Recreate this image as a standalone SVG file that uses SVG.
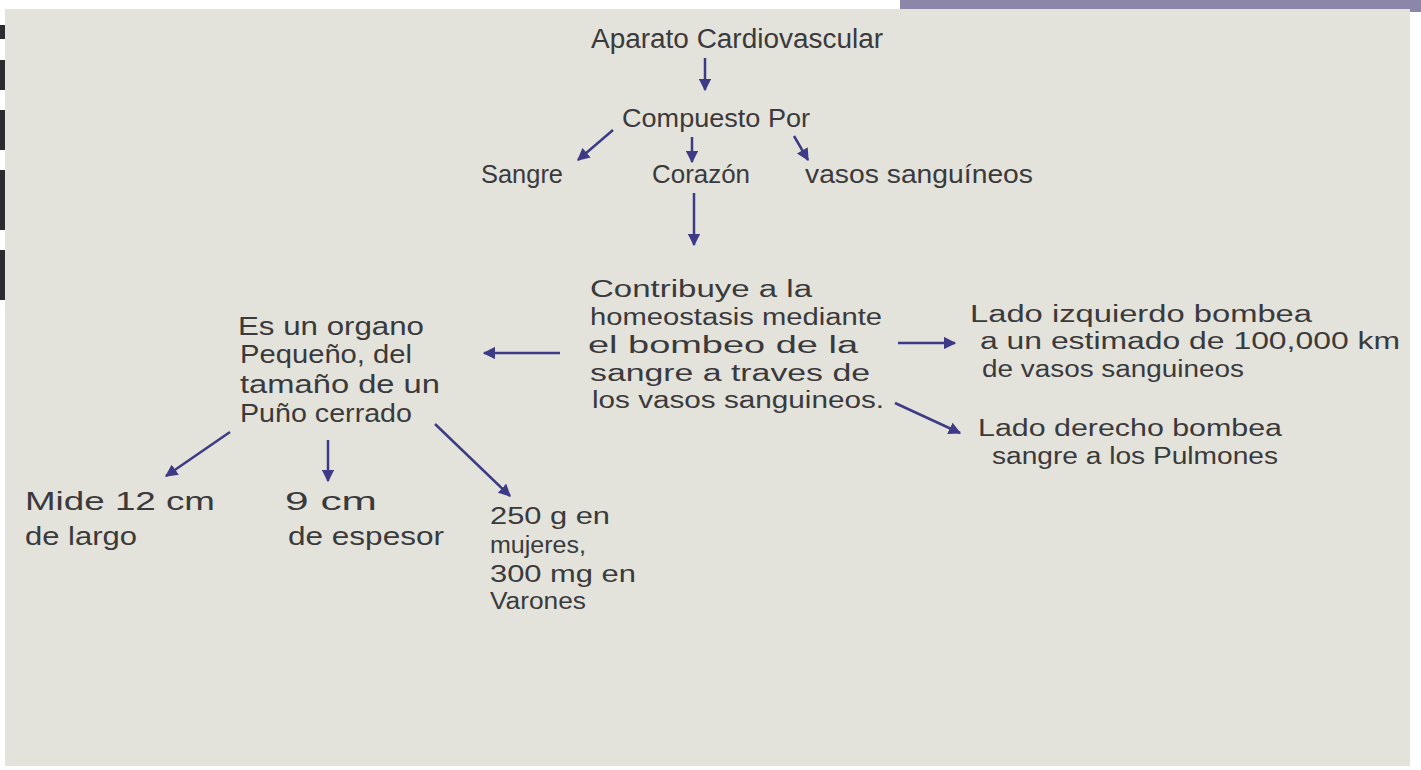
<svg xmlns="http://www.w3.org/2000/svg" width="1421" height="770" viewBox="0 0 1421 770">
<defs>
<marker id="ah" viewBox="0 0 10 10" refX="9" refY="5" markerWidth="5" markerHeight="5" orient="auto-start-reverse" markerUnits="strokeWidth">
<path d="M0,0 L10,5 L0,10 z" fill="#3d3a86"/>
</marker>
<style>
text{font-family:"Liberation Sans","DejaVu Sans",sans-serif;fill:#3a3a3c;font-size:23px}
.t{font-size:27px}
.m{font-size:25px}
.c line{stroke:#3d3a86;stroke-width:2.5;fill:none;marker-end:url(#ah)}
</style>
</defs>
<rect x="0" y="0" width="1421" height="770" fill="#ffffff"/>
<rect x="900" y="0" width="521" height="12" fill="#8c86a8"/>
<rect x="0" y="25" width="7" height="14" fill="#2b2b30"/>
<rect x="0" y="60" width="7" height="30" fill="#2b2b30"/>
<rect x="0" y="110" width="7" height="40" fill="#2b2b30"/>
<rect x="0" y="170" width="7" height="60" fill="#2b2b30"/>
<rect x="0" y="250" width="7" height="50" fill="#2b2b30"/>
<rect x="5" y="9" width="1405" height="757" fill="#e3e2db"/>

<g id="title"><text class="t" x="737" y="48" text-anchor="middle" textLength="292" lengthAdjust="spacingAndGlyphs">Aparato Cardiovascular</text></g>
<g id="compuesto"><text class="m" x="716" y="127" text-anchor="middle" textLength="188" lengthAdjust="spacingAndGlyphs">Compuesto Por</text></g>
<g id="sangre"><text class="m" x="522" y="183" text-anchor="middle" textLength="82" lengthAdjust="spacingAndGlyphs">Sangre</text></g>
<g id="corazon"><text class="m" x="701" y="183" text-anchor="middle" textLength="98" lengthAdjust="spacingAndGlyphs">Corazón</text></g>
<g id="vasos"><text class="m" x="919" y="183" text-anchor="middle" textLength="228" lengthAdjust="spacingAndGlyphs">vasos sanguíneos</text></g>

<g id="contribuye">
<text x="590" y="297" textLength="222" lengthAdjust="spacingAndGlyphs">Contribuye a la</text>
<text x="590" y="325" textLength="292" lengthAdjust="spacingAndGlyphs">homeostasis mediante</text>
<text x="588" y="353" textLength="270" lengthAdjust="spacingAndGlyphs">el bombeo de la</text>
<text x="590" y="381" textLength="280" lengthAdjust="spacingAndGlyphs">sangre a traves de</text>
<text x="592" y="408" textLength="292" lengthAdjust="spacingAndGlyphs">los vasos sanguineos.</text>
</g>

<g id="organo">
<text class="m" x="238" y="335" textLength="186" lengthAdjust="spacingAndGlyphs">Es un organo</text>
<text class="m" x="240" y="363" textLength="172" lengthAdjust="spacingAndGlyphs">Pequeño, del</text>
<text class="m" x="240" y="393" textLength="200" lengthAdjust="spacingAndGlyphs">tamaño de un</text>
<text class="m" x="240" y="422" textLength="172" lengthAdjust="spacingAndGlyphs">Puño cerrado</text>
</g>

<g id="izquierdo">
<text x="970" y="322" textLength="342" lengthAdjust="spacingAndGlyphs">Lado izquierdo bombea</text>
<text x="980" y="349" textLength="420" lengthAdjust="spacingAndGlyphs">a un estimado de 100,000 km</text>
<text x="982" y="377" textLength="262" lengthAdjust="spacingAndGlyphs">de vasos sanguineos</text>
</g>
<g id="derecho">
<text x="978" y="436" textLength="304" lengthAdjust="spacingAndGlyphs">Lado derecho bombea</text>
<text x="992" y="464" textLength="286" lengthAdjust="spacingAndGlyphs">sangre a los Pulmones</text>
</g>

<g id="mide">
<text class="m" x="25" y="510" textLength="190" lengthAdjust="spacingAndGlyphs">Mide 12 cm</text>
<text class="m" x="25" y="545" textLength="112" lengthAdjust="spacingAndGlyphs">de largo</text>
</g>
<g id="espesor">
<text class="m" x="285" y="510" textLength="92" lengthAdjust="spacingAndGlyphs">9 cm</text>
<text class="m" x="288" y="545" textLength="156" lengthAdjust="spacingAndGlyphs">de espesor</text>
</g>
<g id="peso">
<text x="490" y="524" textLength="120" lengthAdjust="spacingAndGlyphs">250 g en</text>
<text x="490" y="553" textLength="96" lengthAdjust="spacingAndGlyphs">mujeres,</text>
<text x="490" y="582" textLength="146" lengthAdjust="spacingAndGlyphs">300 mg en</text>
<text x="490" y="609" textLength="96" lengthAdjust="spacingAndGlyphs">Varones</text>
</g>

<g id="connectors" class="c">
<line x1="705" y1="58" x2="705" y2="90"/>
<line x1="613" y1="130" x2="578" y2="160"/>
<line x1="692" y1="137" x2="692" y2="162"/>
<line x1="794" y1="136" x2="808" y2="160"/>
<line x1="694" y1="193" x2="694" y2="245"/>
<line x1="560" y1="353" x2="484" y2="353"/>
<line x1="898" y1="343" x2="955" y2="343"/>
<line x1="895" y1="403" x2="960" y2="433"/>
<line x1="230" y1="432" x2="166" y2="476"/>
<line x1="328" y1="440" x2="328" y2="481"/>
<line x1="435" y1="424" x2="510" y2="496"/>
</g>
</svg>
